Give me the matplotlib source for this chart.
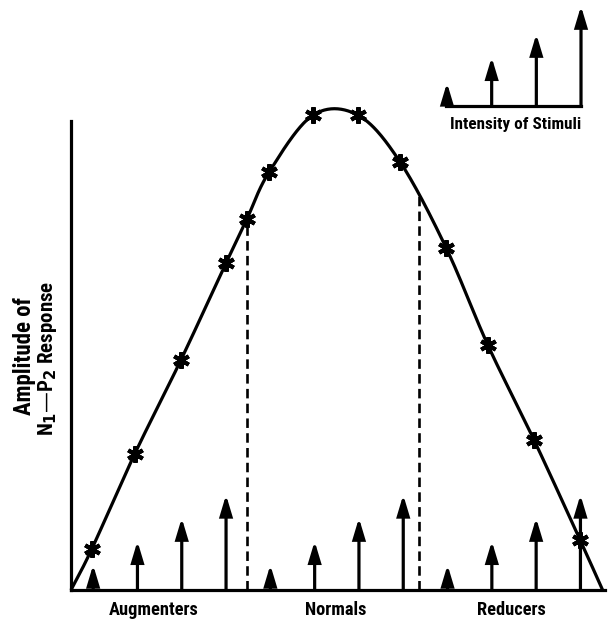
import numpy as np
import matplotlib
matplotlib.use("Agg")
import matplotlib.pyplot as plt
from matplotlib import font_manager as fm

# ---- data -------------------------------------------------------------
# group labels along the stimulus axis
groups = ["Augmenters", "Normals", "Reducers"]
group_label_x = [1.86, 5.98, 9.95]

# stimulus arrows: position and intensity (arrow height)
stim_x = [0.5, 1.5, 2.5, 3.5, 4.5, 5.5, 6.5, 7.5, 8.5, 9.5, 10.5, 11.5]
stim_h = [5.2, 10.1, 14.9, 19.7, 5.2, 10.1, 14.9, 19.7, 5.2, 10.1, 14.9, 19.7]

# measured N1-P2 amplitudes (asterisks)
obs_x = [0.47, 1.44, 2.48, 3.50, 3.97, 4.47, 5.46, 6.48, 7.43, 8.47, 9.41, 10.45, 11.49]
obs_y = [8.5, 28.2, 47.6, 67.7, 76.8, 86.5, 98.3, 98.3, 88.6, 70.8, 50.7, 31.1, 10.4]

# fitted response curve knots (ends on the baseline)
curve_x = [0.0, 0.47, 1.44, 2.48, 3.50, 3.97, 4.47, 5.46, 6.48, 7.43, 8.47, 9.41, 10.45, 11.49, 12.0]
curve_y = [0.0, 8.5, 28.2, 47.6, 67.7, 76.8, 86.5, 98.3, 98.3, 88.6, 70.8, 50.7, 31.1, 10.4, 0.0]

# group boundaries (dashed lines)
boundary_x = [3.97, 7.86]

# inset legend: stimulus intensity scale
legend_x = [0, 1, 2, 3]
legend_h = [4.8, 10.1, 14.9, 20.7]

# ---- font -------------------------------------------------------------
available = {f.name for f in fm.fontManager.ttflist}
FONT = "DejaVu Sans"
for cand in ["Liberation Sans Narrow", "DejaVu Sans Condensed", "Roboto Condensed", "DejaVu Sans"]:
    if cand in available:
        FONT = cand
        break
plt.rcParams["font.family"] = [FONT, "DejaVu Sans"]
plt.rcParams["font.weight"] = "bold"


def catmull_rom(px, py, n=40):
    P = np.column_stack([px, py]).astype(float)
    P = np.vstack([2 * P[0] - P[1], P, 2 * P[-1] - P[-2]])
    segs = []
    t = np.linspace(0, 1, n, endpoint=False)[:, None]
    for i in range(1, len(P) - 2):
        p0, p1, p2, p3 = P[i - 1], P[i], P[i + 1], P[i + 2]
        seg = 0.5 * ((2 * p1) + (-p0 + p2) * t
                     + (2 * p0 - 5 * p1 + 4 * p2 - p3) * t ** 2
                     + (-p0 + 3 * p1 - 3 * p2 + p3) * t ** 3)
        segs.append(seg)
    segs.append(P[-2][None])
    return np.vstack(segs)


W, H = 608, 627
fig = plt.figure(figsize=(W / 100, H / 100), dpi=100)

# main axes
X0, X1, Y0, Y1 = 71, 605, 590, 100          # axes extent on the canvas
UX, UY = 44.3, 4.83                          # canvas units per data unit
ax = fig.add_axes([X0 / W, (H - Y0) / H, (X1 - X0) / W, (Y0 - Y1) / H])
ax.set_xlim(0, (X1 - X0) / UX)
ax.set_ylim(0, (Y0 - Y1) / UY)
for s in ["top", "right"]:
    ax.spines[s].set_visible(False)
for s in ["left", "bottom"]:
    ax.spines[s].set_linewidth(2.3)
ax.spines["left"].set_bounds(0, (Y0 - 121) / UY)
ax.set_xticks([])
ax.set_yticks([])
ax.patch.set_visible(False)

LW = 2.3
arrow_style = "-|>,head_length=1.2,head_width=0.36"


def draw_arrow(a, x, h):
    a.annotate("", xy=(x, h), xytext=(x, 0),
               arrowprops=dict(arrowstyle=arrow_style, lw=LW, color="black",
                               shrinkA=0, shrinkB=0, mutation_scale=10,
                               joinstyle="miter"),
               annotation_clip=False)


# curve
cr = catmull_rom(curve_x, curve_y)
ax.plot(cr[:, 0], cr[:, 1], color="black", lw=LW, solid_capstyle="butt", clip_on=False)

# group boundaries
for bx in boundary_x:
    top = np.interp(bx, cr[:, 0], cr[:, 1])
    ax.plot([bx, bx], [0, top], color="black", lw=1.9, ls=(0, (3.6, 2.0)), clip_on=False)

# stimulus arrows
for x, h in zip(stim_x, stim_h):
    draw_arrow(ax, x, h)

# observations
ax.plot(obs_x, obs_y, ls="none", marker=(6, 2, 0), ms=12, mew=2.9,
        color="black", clip_on=False)

# group labels
for lbl, gx in zip(groups, group_label_x):
    ax.text(gx, -(610 - Y0) / UY, lbl, ha="center", va="center", fontsize=13.2,
            fontweight="bold")

# y-axis label (two lines)
fig.text(24 / W, 1 - 356 / H, "Amplitude of", rotation=90, ha="center", va="center",
         fontsize=16.5, fontweight="bold")
fig.text(48 / W, 1 - 358 / H, "N$_\\mathbf{1}$\u2014P$_\\mathbf{2}$ Response", rotation=90,
         ha="center", va="center", fontsize=15, fontweight="bold")

# inset: intensity of stimuli
IX0, IX1, IY0, IY1 = 430, 600, 115, 0
IUX = 44.67
iax = fig.add_axes([IX0 / W, (H - IY0) / H, (IX1 - IX0) / W, (IY0 - IY1) / H])
iax.set_xlim((IX0 - 447) / IUX, (IX1 - 447) / IUX)
iax.set_ylim((106 - IY0) / UY, (106 - IY1) / UY)
iax.axis("off")
iax.plot([legend_x[0] - 0.02, legend_x[-1]], [0, 0], color="black", lw=LW,
         solid_capstyle="projecting", clip_on=False)
for x, h in zip(legend_x, legend_h):
    draw_arrow(iax, x, h)
iax.text(np.mean([legend_x[0], legend_x[-1]]) + 0.04, -(124 - 106) / UY,
         "Intensity of Stimuli", ha="center", va="center", fontsize=12.3,
         fontweight="bold", clip_on=False)

fig.savefig("out.png", dpi=100)
